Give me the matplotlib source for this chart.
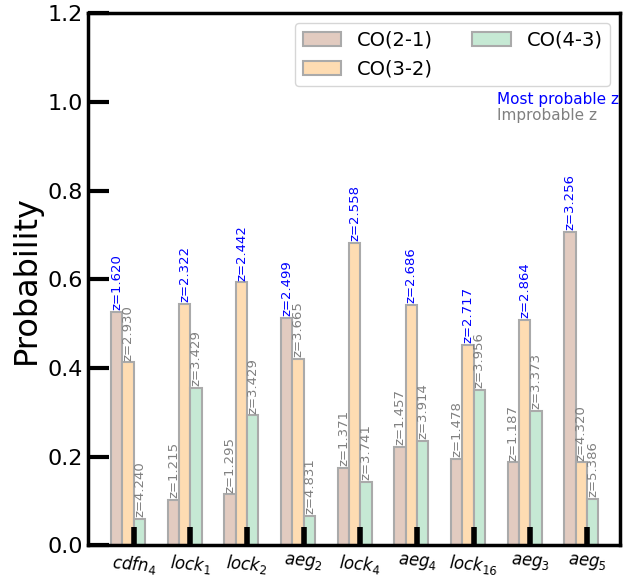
import numpy as np
import matplotlib
matplotlib.use('Agg')
import matplotlib.pyplot as plt

# sources and line probabilities
sources = ['cdfn_4', 'lock_1', 'lock_2', 'aeg_2', 'lock_4', 'aeg_4', 'lock_{16}', 'aeg_3', 'aeg_5']
lines = ['CO(2-1)', 'CO(3-2)', 'CO(4-3)']
prob_21 = [0.526, 0.102, 0.115, 0.514, 0.175, 0.222, 0.196, 0.187, 0.707]
prob_32 = [0.413, 0.544, 0.593, 0.420, 0.682, 0.543, 0.453, 0.509, 0.187]
prob_43 = [0.060, 0.356, 0.293, 0.067, 0.144, 0.235, 0.351, 0.304, 0.105]
z_21 = [1.620, 1.215, 1.295, 2.499, 1.371, 1.457, 1.478, 1.187, 3.256]
z_32 = [2.930, 2.322, 2.442, 3.665, 2.558, 2.686, 2.717, 2.864, 4.320]
z_43 = [4.240, 3.429, 3.429, 4.831, 3.741, 3.914, 3.956, 3.373, 5.386]

colors = ['#e2cbc0', '#fedcb2', '#c6e9d4']
probs = [prob_21, prob_32, prob_43]
zs = [z_21, z_32, z_43]

x = np.arange(len(sources))
w = 0.2
offsets = [-0.3, -0.1, 0.1]

fig, ax = plt.subplots(figsize=(6.23, 5.79), dpi=100)
best = np.argmax(np.array(probs), axis=0)

for k in range(3):
    ax.bar(x + offsets[k], probs[k], width=w, color=colors[k],
           edgecolor='#aaaaaa', linewidth=1.5, label=lines[k])
    for i in range(len(sources)):
        c = 'blue' if best[i] == k else 'gray'
        ax.text(x[i] + offsets[k], probs[k][i] + 0.004, 'z=%.3f' % zs[k][i],
                rotation=90, ha='center', va='bottom', fontsize=9.5, color=c)

ax.set_xticks(x)
ax.set_xticklabels(['$' + s + '$' for s in sources], fontsize=12, rotation=-5)
ax.set_xlim(-0.81, 8.58)
ax.set_ylim(0, 1.2)
ax.set_yticks(np.arange(0, 1.21, 0.2))
ax.set_ylabel('Probability', fontsize=23)
ax.tick_params(axis='y', direction='in', length=15, width=3, labelsize=16)
ax.tick_params(axis='x', direction='in', length=13, width=4, pad=5)
for sp in ax.spines.values():
    sp.set_linewidth(2.5)

ax.legend(loc='upper right', ncol=2, fontsize=14, handlelength=2.0,
          columnspacing=2.0, borderaxespad=0.5)
ax.text(0.769, 0.838, 'Most probable z', color='blue', fontsize=11,
        transform=ax.transAxes, ha='left', va='center')
ax.text(0.769, 0.808, 'Improbable z', color='gray', fontsize=11,
        transform=ax.transAxes, ha='left', va='center')

plt.subplots_adjust(left=0.141, right=0.995, top=0.977, bottom=0.058)
plt.savefig('out.png', dpi=100)
